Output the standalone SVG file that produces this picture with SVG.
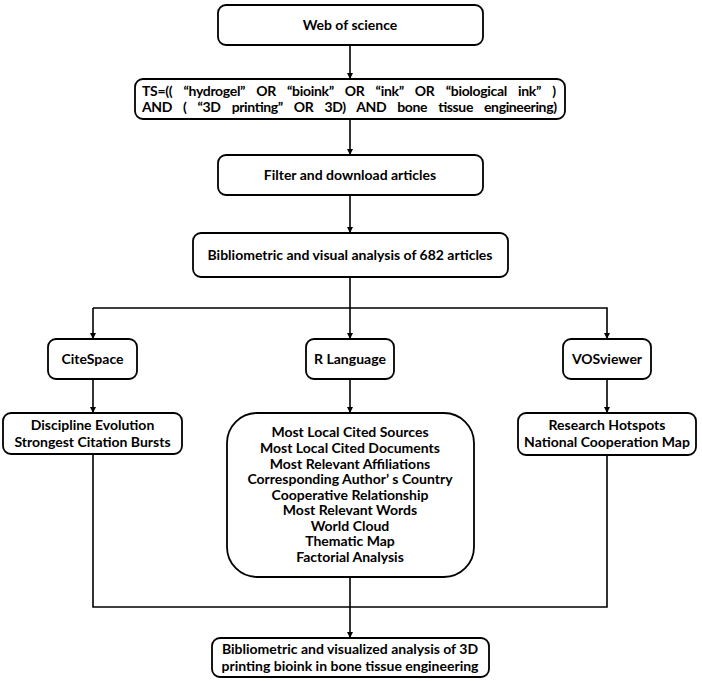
<svg xmlns="http://www.w3.org/2000/svg" width="702" height="681" viewBox="0 0 702 681">
<style>
.box{fill:#fff;stroke:#000;stroke-width:1.8}
.t{font-family:Lato,"Open Sans","Liberation Sans",sans-serif;font-weight:bold;font-size:14px;fill:#000;text-anchor:middle}
.q{font-family:Lato,"Open Sans","Liberation Sans",sans-serif;font-weight:bold;font-size:14px;fill:#000;word-spacing:8px}
.c{fill:none;stroke:#000;stroke-width:1.6}
</style>
<defs>
<marker id="ah" viewBox="0 0 10 10" refX="10" refY="5" markerWidth="6" markerHeight="6" markerUnits="userSpaceOnUse" orient="auto">
<path d="M0,0 L10,5 L0,10 z" fill="#000"/>
</marker>
</defs>
<rect width="702" height="681" fill="#fff"/>
<g id="connectors">
<line class="c" x1="350" y1="45" x2="350" y2="79" marker-end="url(#ah)"/>
<line class="c" x1="350" y1="119" x2="350" y2="155" marker-end="url(#ah)"/>
<line class="c" x1="350" y1="195" x2="350" y2="233" marker-end="url(#ah)"/>
<line class="c" x1="350" y1="277" x2="350" y2="339" marker-end="url(#ah)"/>
<polyline class="c" points="93,308 607,308 607,339" marker-end="url(#ah)"/>
<line class="c" x1="93" y1="308" x2="93" y2="339" marker-end="url(#ah)"/>
<line class="c" x1="93" y1="379" x2="93" y2="413" marker-end="url(#ah)"/>
<line class="c" x1="350" y1="379" x2="350" y2="413" marker-end="url(#ah)"/>
<line class="c" x1="607" y1="379" x2="607" y2="413" marker-end="url(#ah)"/>
<polyline class="c" points="93,454 93,607 607,607 607,455"/>
<line class="c" x1="350" y1="577" x2="350" y2="638" marker-end="url(#ah)"/>
</g>
<g id="web">
<rect class="box" x="218" y="5" width="265" height="40" rx="8"/>
<text class="t" x="350" y="30">Web of science</text>
</g>
<g id="query">
<rect class="box" x="135" y="79" width="430" height="40" rx="8"/>
<text class="q" x="142" y="96" textLength="414" lengthAdjust="spacing">TS=(( “hydrogel” OR “bioink” OR “ink” OR “biological ink” )</text>
<text class="q" x="142" y="112" textLength="415" lengthAdjust="spacing">AND ( “3D printing” OR 3D) AND bone tissue engineering)</text>
</g>
<g id="filter">
<rect class="box" x="218" y="155" width="265" height="40" rx="8"/>
<text class="t" x="350" y="180">Filter and download articles</text>
</g>
<g id="biblio">
<rect class="box" x="193" y="233" width="315" height="44" rx="8"/>
<text class="t" x="350" y="260">Bibliometric and visual analysis of 682 articles</text>
</g>
<g id="citespace">
<rect class="box" x="48" y="339" width="89" height="40" rx="8"/>
<text class="t" x="92.5" y="364">CiteSpace</text>
</g>
<g id="rlang">
<rect class="box" x="306" y="339" width="88" height="40" rx="8"/>
<text class="t" x="350" y="364">R Language</text>
</g>
<g id="vos">
<rect class="box" x="563" y="339" width="88" height="40" rx="8"/>
<text class="t" x="607" y="364">VOSviewer</text>
</g>
<g id="citedetail">
<rect class="box" x="3" y="413" width="179" height="41" rx="8"/>
<text class="t" x="92.5" y="430">Discipline Evolution</text>
<text class="t" x="92.5" y="447">Strongest Citation Bursts</text>
</g>
<g id="rdetail">
<rect class="box" x="227" y="413" width="247" height="164" rx="30"/>
<text class="t" x="350" y="437">Most Local Cited Sources</text>
<text class="t" x="350" y="453">Most Local Cited Documents</text>
<text class="t" x="350" y="468.5">Most Relevant Affiliations</text>
<text class="t" x="350" y="484">Corresponding Author’ s Country</text>
<text class="t" x="350" y="499.5">Cooperative Relationship</text>
<text class="t" x="350" y="515">Most Relevant Words</text>
<text class="t" x="350" y="530.5">World Cloud</text>
<text class="t" x="350" y="546">Thematic Map</text>
<text class="t" x="350" y="561.5">Factorial Analysis</text>
</g>
<g id="vosdetail">
<rect class="box" x="518" y="413" width="178" height="42" rx="8"/>
<text class="t" x="607" y="430">Research Hotspots</text>
<text class="t" x="607" y="447">National Cooperation Map</text>
</g>
<g id="result">
<rect class="box" x="212" y="638" width="277" height="39" rx="8"/>
<text class="t" x="350" y="654">Bibliometric and visualized analysis of 3D</text>
<text class="t" x="350" y="671">printing bioink in bone tissue engineering</text>
</g>
</svg>
